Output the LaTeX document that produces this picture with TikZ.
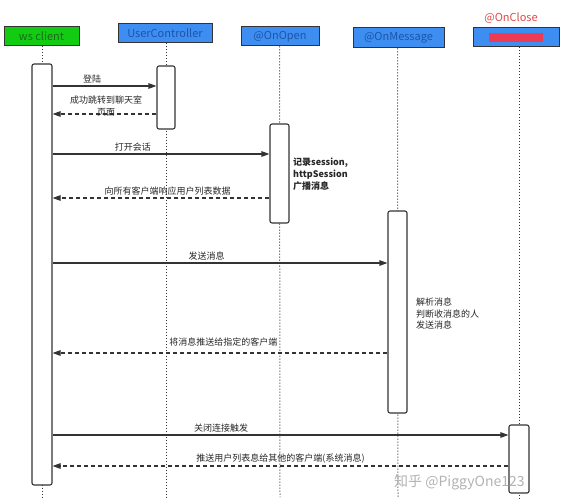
\documentclass[tikz,border=0pt]{standalone}
\usepackage{fontspec}
\setmainfont{Noto Sans CJK SC}
\usetikzlibrary{arrows.meta}
\definecolor{hgreen}{HTML}{11CC11}
\definecolor{hgreentext}{HTML}{1C6A1C}
\definecolor{hblue}{HTML}{3E8EF2}
\definecolor{hbluetext}{HTML}{1D55A8}
\definecolor{closered}{HTML}{E04848}
\definecolor{redactred}{HTML}{EE3B55}
\definecolor{lineink}{HTML}{333333}
\tikzset{
  head/.style={draw=lineink, line width=1pt, minimum height=19pt, inner sep=0pt, font=\fontsize{11}{12}\selectfont},
  bluehead/.style={head, fill=hblue, text=hbluetext},
  actbox/.style={draw=lineink, line width=1.1pt, fill=white, rounded corners=2pt, inner sep=0pt},
  life/.style={draw=lineink, line width=1pt, dotted},
  msg/.style={draw=lineink, line width=1.1pt, -{Triangle[length=8pt,width=5.5pt]}},
  reply/.style={msg, dashed, dash pattern=on 4pt off 3pt},
  lbl/.style={font=\fontsize{9}{11}\selectfont, text=black!85, inner sep=1pt},
}
\begin{document}
\begin{tikzpicture}[x=1pt,y=-1pt]
\useasboundingbox (0,0) rectangle (564,500);
% heads
\node[head, fill=hgreen, text=hgreentext, minimum width=75pt] (hws) at (41.5,36.5) {ws client};
\node[bluehead, minimum width=94pt] (huc) at (165,33.5) {UserController};
\node[bluehead, minimum width=78pt] (hop) at (280,36.5) {@OnOpen};
\node[bluehead, minimum width=91pt, minimum height=20pt] (hom) at (398.5,38) {@OnMessage};
\node[bluehead, minimum width=86pt] (hoc) at (516,37.5) {};
\node[fill=redactred, minimum width=54pt, minimum height=9pt, inner sep=0pt] (redact) at (516,38) {};
\node[text=closered, font=\fontsize{11}{12}\selectfont] (tclose) at (511,18) {@OnClose};
% bottom ends of lifelines
\coordinate (ews) at (42,497);
\coordinate (euc) at (166,497);
\coordinate (eop) at (280,497);
\coordinate (eom) at (398,497);
\coordinate (eoc) at (519,500);
% activation box positions
\coordinate (cws) at (42,274.5);
\coordinate (cuc) at (166,97.5);
\coordinate (cop) at (279.5,173.5);
\coordinate (com) at (397.5,312);
\coordinate (coc) at (519,459);
% lifelines
\draw[life] (hws.south -| cws) -- (ews);
\draw[life] (huc.south -| cuc) -- (euc);
\draw[life] (hop.south -| cop) -- (eop);
\draw[life] (hom.south -| com) -- (eom);
\draw[life] (hoc.south -| coc) -- (eoc);
% activation boxes
\node[actbox, minimum width=20pt, minimum height=421pt] (aws) at (cws) {};
\node[actbox, minimum width=18pt, minimum height=63pt] (auc) at (cuc) {};
\node[actbox, minimum width=19pt, minimum height=99pt] (aop) at (cop) {};
\node[actbox, minimum width=19pt, minimum height=202pt] (aom) at (com) {};
\node[actbox, minimum width=20pt, minimum height=68pt] (aoc) at (coc) {};
% messages
\draw[msg] (aws.east |- 0,86) -- node[lbl, above=1pt, pos=0.38] (l1) {登陆} (auc.west |- 0,86);
\draw[reply] (auc.west |- 0,114) -- (aws.east |- 0,114);
\node[lbl, align=center, font=\fontsize{9}{12}\selectfont] (l2) at (106,106) {成功跳转到聊天室\\页面};
\draw[msg] (aws.east |- 0,154) -- node[lbl, above=1pt, pos=0.37] (l3) {打开会话} (aop.west |- 0,154);
\node[lbl, anchor=north west, align=left, font=\bfseries\fontsize{9}{12}\selectfont] (l4) at (292,157) {记录session,\\httpSession\\广播消息};
\draw[reply] (aop.west |- 0,198) -- node[lbl, above=1pt, pos=0.47] (l5) {向所有客户端响应用户列表数据} (aws.east |- 0,198);
\draw[msg] (aws.east |- 0,263) -- node[lbl, above=1pt, pos=0.46] (l6) {发送消息} (aom.west |- 0,263);
\node[lbl, anchor=north west, align=left, font=\fontsize{9}{11.5}\selectfont] (l7) at (415,297) {解析消息\\判断收消息的人\\发送消息};
\draw[reply] (aom.west |- 0,353) -- node[lbl, above=5pt, pos=0.49] (l8) {将消息推送给指定的客户端} (aws.east |- 0,353);
\draw[msg] (aws.east |- 0,435) -- node[lbl, above=1pt, pos=0.37] (l9) {关闭连接触发} (aoc.west |- 0,435);
\draw[reply] (aoc.west |- 0,466) -- node[lbl, above=1pt, pos=0.5] (l10) {推送用户列表息给其他的客户端(系统消息)} (aws.east |- 0,466);
% watermark
\node[text=black!30, font=\fontsize{14}{16}\selectfont, anchor=west, inner sep=0pt] (wm) at (394,482) {知乎 @PiggyOne123};
\end{tikzpicture}
\end{document}
